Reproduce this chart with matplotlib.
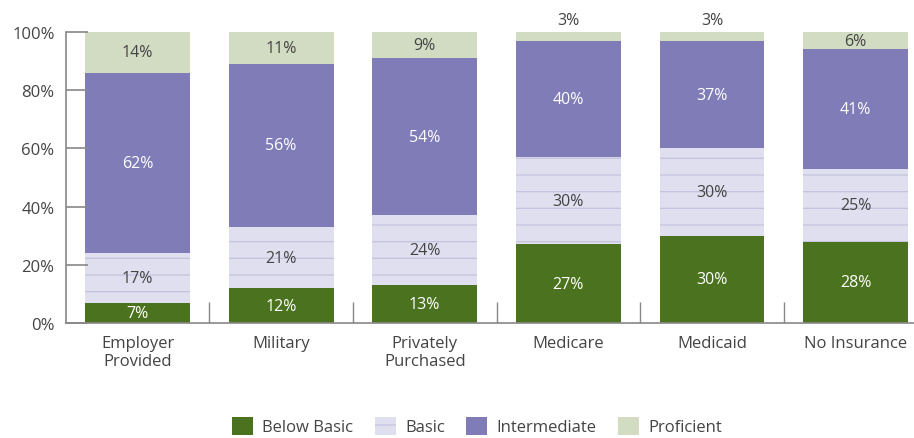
import matplotlib.pyplot as plt
from matplotlib.patches import Patch

plt.rcParams['font.family'] = ['Open Sans', 'DejaVu Sans']
plt.rcParams['hatch.color'] = '#c3c3dd'
plt.rcParams['hatch.linewidth'] = 0.9

categories = ["Employer\nProvided", "Military", "Privately\nPurchased",
              "Medicare", "Medicaid", "No Insurance"]
below_basic = [7, 12, 13, 27, 30, 28]
basic = [17, 21, 24, 30, 30, 25]
intermediate = [62, 56, 54, 40, 37, 41]
proficient = [14, 11, 9, 3, 3, 6]

series = [
    ("Below Basic", below_basic, "#4b731f", "white", None),
    ("Basic", basic, "#dfdff0", "#444444", "-"),
    ("Intermediate", intermediate, "#7f7cb8", "white", None),
    ("Proficient", proficient, "#d2dcc3", "#444444", None),
]

fig = plt.figure(figsize=(9.14, 4.39), dpi=100)
ax = fig.add_axes([65.7 / 914, 115 / 439, 848.3 / 914, 291 / 439])

x = range(len(categories))
bottom = [0] * len(categories)
handles = []
for name, vals, color, tcolor, hatch in series:
    bars = ax.bar(x, vals, width=0.73, bottom=bottom, color=color,
                  hatch=hatch, edgecolor="#c3c3dd" if hatch else color,
                  linewidth=0)
    for i, b in enumerate(bars):
        v = vals[i]
        if v < 5:
            ax.text(i, bottom[i] + v + 1.5, f"{v}%", ha="center", va="bottom",
                    color="#444444", fontsize=11.5)
        else:
            ax.text(i, bottom[i] + v / 2, f"{v}%", ha="center", va="center",
                    color=tcolor, fontsize=11.5)
    bottom = [bottom[i] + vals[i] for i in range(len(vals))]
    handles.append(Patch(facecolor=color, hatch=hatch,
                         edgecolor="#c3c3dd" if hatch else color, linewidth=0,
                         label=name))

ax.set_xlim(-0.5, 5.407)
ax.set_ylim(0, 100)
ax.set_yticks(range(0, 101, 20))
ax.set_yticklabels([f"{v}%" for v in range(0, 101, 20)])
ax.set_xticks(list(x))
ax.set_xticklabels(categories, fontsize=12, color="#444444", linespacing=1.1)
ax.set_xticks([i + 0.5 for i in range(5)], minor=True)
ax.tick_params(axis="x", which="major", length=0, pad=9)
ax.tick_params(axis="x", which="minor", direction="in", length=15,
               color="#888888", width=1)
ax.tick_params(axis="y", direction="in", length=16, color="#888888", width=1.2,
               labelsize=12, labelcolor="#444444", pad=8)
for s in ["top", "right"]:
    ax.spines[s].set_visible(False)
for s in ["left", "bottom"]:
    ax.spines[s].set_color("#888888")
    ax.spines[s].set_linewidth(1.2)

fig.legend(handles=handles, loc="lower center", ncol=4, frameon=False,
           bbox_to_anchor=(0.522, -0.028), fontsize=12, handlelength=1.26,
           handleheight=1.3, columnspacing=1.3, handletextpad=0.55,
           labelcolor="#444444")

fig.savefig("out.png", dpi=100)
